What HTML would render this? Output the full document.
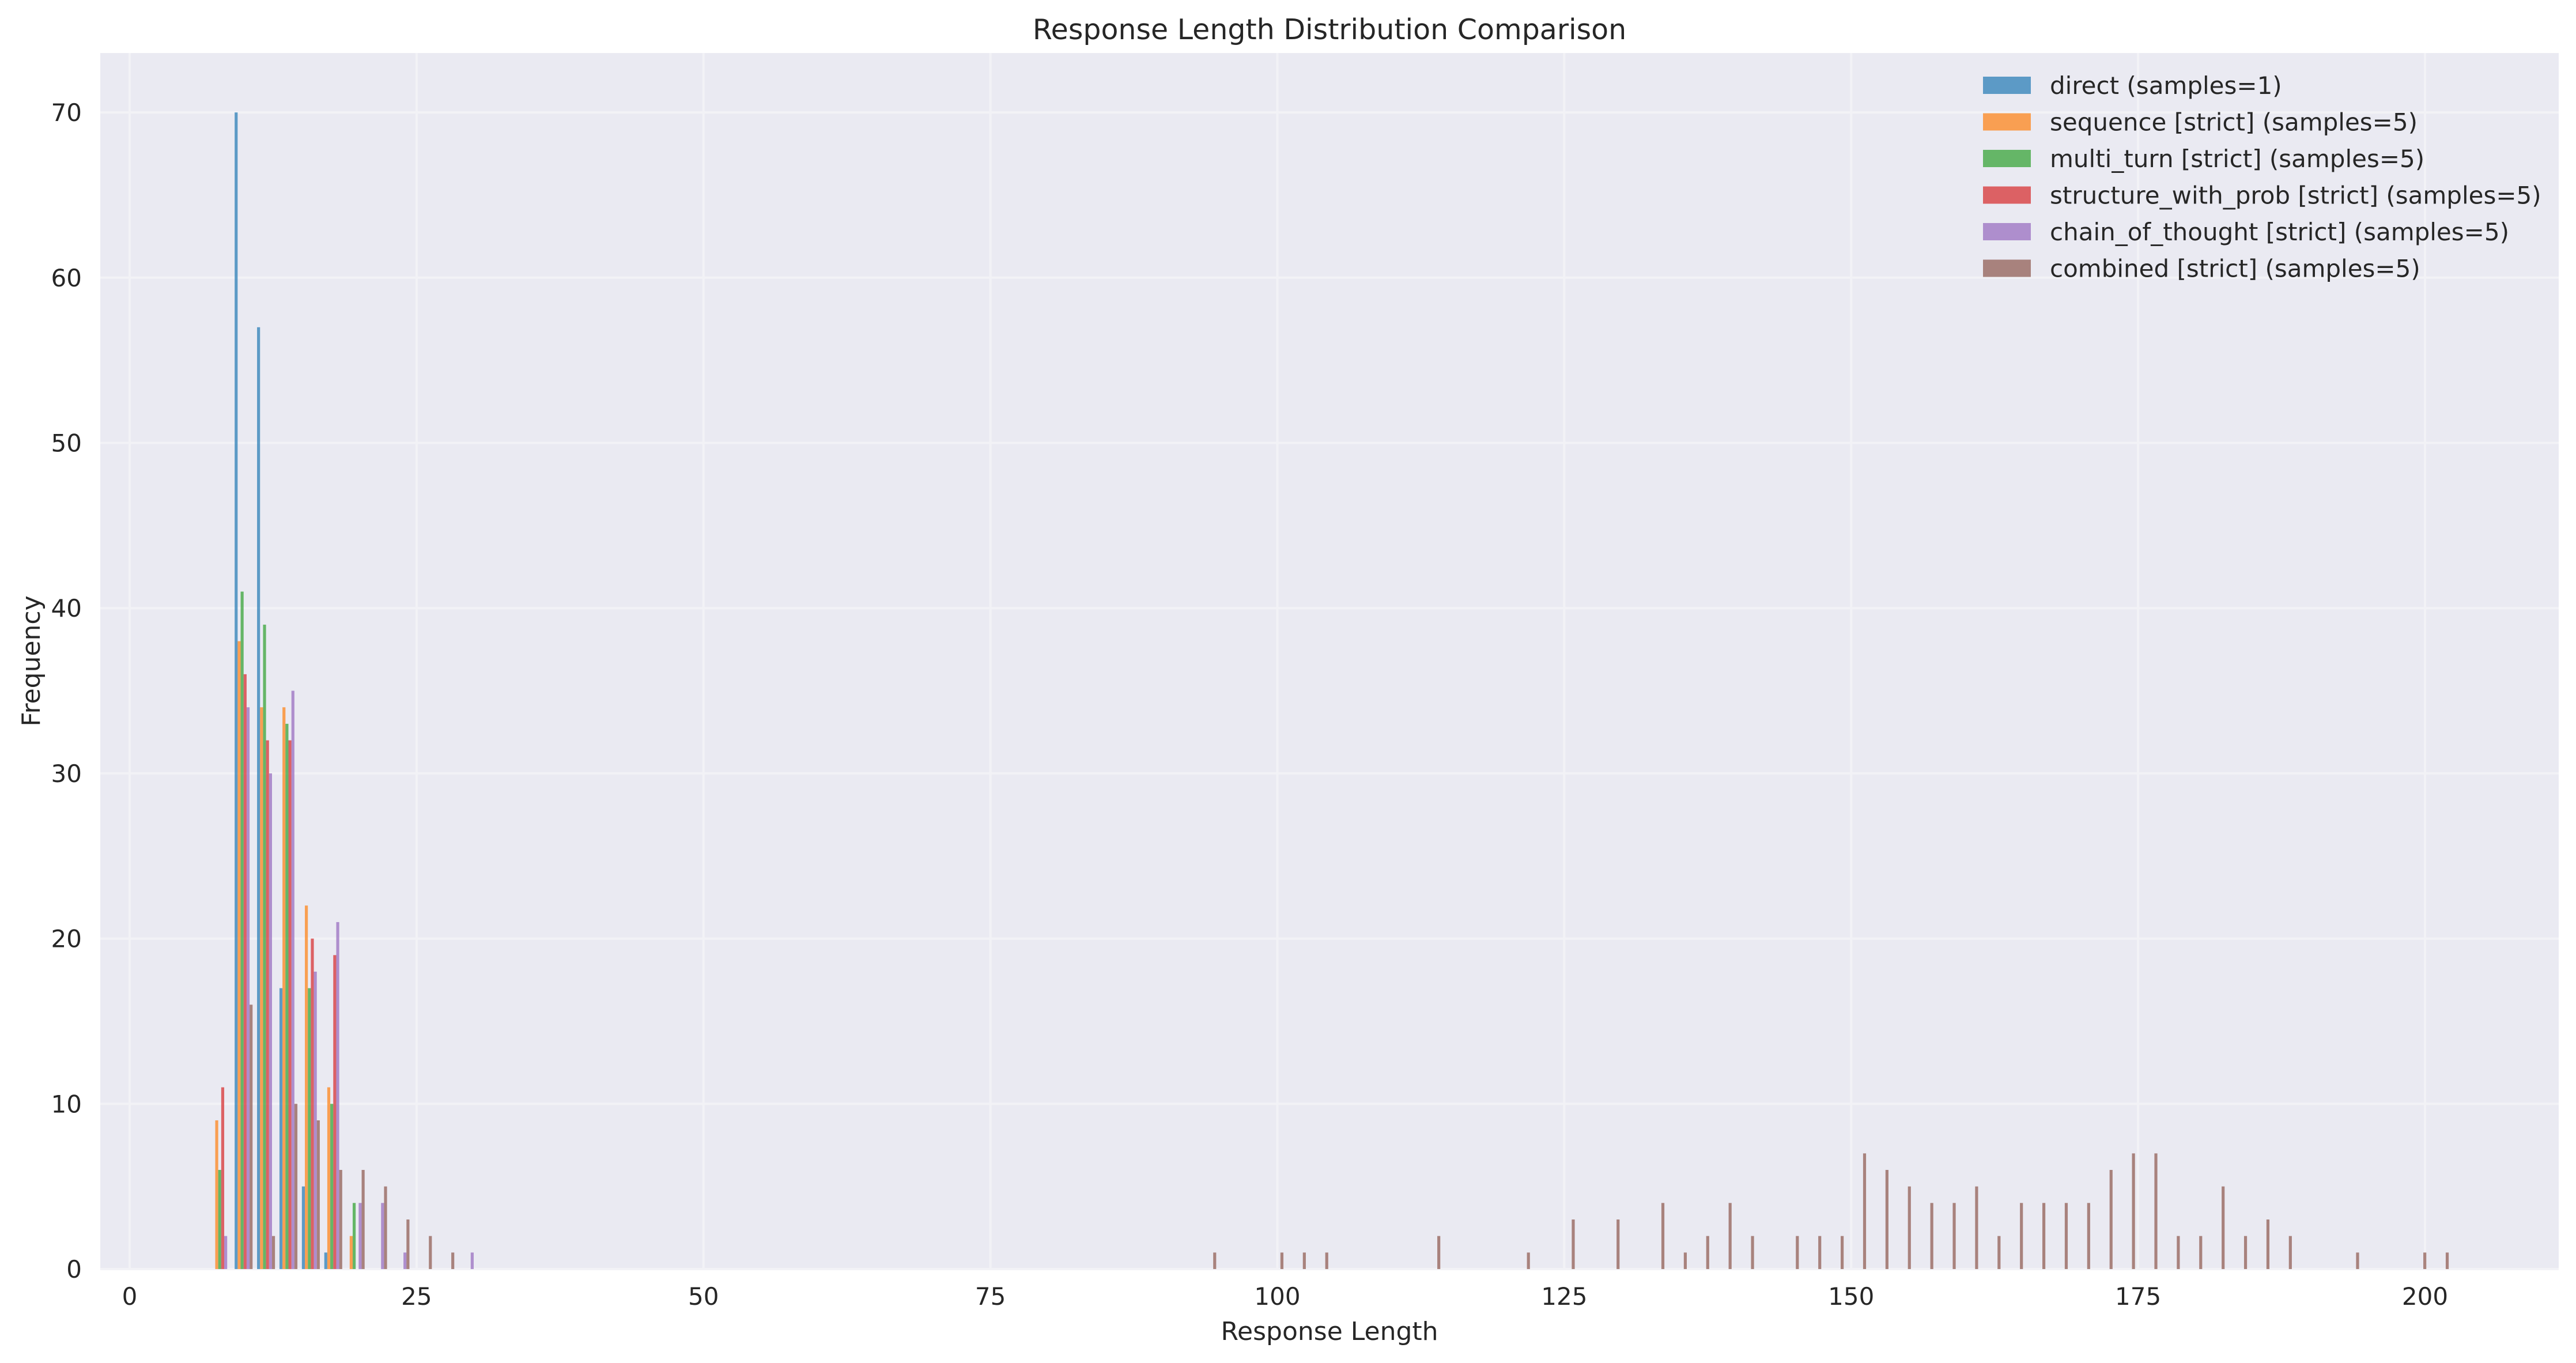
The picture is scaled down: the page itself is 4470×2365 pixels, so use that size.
<!DOCTYPE html>
<html><head><meta charset="utf-8">
<style>
html,body{margin:0;padding:0;background:#fff;}
svg{display:block;font-family:"DejaVu Sans","Liberation Sans",sans-serif;}
</style></head>
<body>
<svg id="chart" width="4470" height="2365" viewBox="0 0 4470 2365" xmlns="http://www.w3.org/2000/svg">
<rect x="174" y="92" width="4266" height="2110" fill="#EAEAF2"/>
<g id="grid"></g>
<g id="bars"></g>
<g id="ticks" fill="#262626" font-size="42"></g>
<text x="2307" y="68" text-anchor="middle" font-size="49" fill="#262626">Response Length Distribution Comparison</text>
<text x="2307" y="2325" text-anchor="middle" font-size="44" fill="#262626">Response Length</text>
<text transform="translate(69,1147) rotate(-90)" text-anchor="middle" font-size="44" fill="#262626">Frequency</text>
<g id="legend" font-size="42" fill="#262626"></g>
</svg>
<script>
const seriesNames = ["direct (samples=1)","sequence [strict] (samples=5)","multi_turn [strict] (samples=5)","structure_with_prob [strict] (samples=5)","chain_of_thought [strict] (samples=5)","combined [strict] (samples=5)"];
const seriesKeys = ["direct","sequence","multi-turn","structure-with-prob","chain-of-thought","combined"];
const colors = ["#1f77b4","#ff7f0e","#2ca02c","#d62728","#9467bd","#8c564b"];
const binMin = 7;
const binWidth = 1.9526;
const directCounts = [0,70,57,17,5,1,0,0,0,0,0,0,0];
const sequenceCounts = [9,38,34,34,22,11,2,0,0,0,0,0,0];
const multiTurnCounts = [6,41,39,33,17,10,4,0,0,0,0,0,0];
const structureCounts = [11,36,32,32,20,19,0,0,0,0,0,0,0];
const chainCounts = [2,34,30,35,18,21,4,4,1,0,0,1,0];
const combinedCounts = [0,16,2,10,9,6,6,5,3,2,1,0,0,0,0,0,0,0,0,0,
0,0,0,0,0,0,0,0,0,0,0,0,0,0,0,0,0,0,0,0,
0,0,0,0,1,0,0,1,1,1,0,0,0,0,2,0,0,0,1,0,
3,0,3,0,4,1,2,4,2,0,2,2,2,7,6,5,4,4,5,2,
4,4,4,4,6,7,7,2,2,5,2,3,2,0,0,1,0,0,1,1];
const xTicks = [0,25,50,75,100,125,150,175,200];
const yTicks = [0,10,20,30,40,50,60,70];

const NS = "http://www.w3.org/2000/svg";
const X0 = 225, XS = 19.915, Y0 = 2202, YS = 28.67;
const PL = 174, PR = 4440, PT = 92, PB = 2202;
function xp(v){ return X0 + v*XS; }
function yp(v){ return Y0 - v*YS; }
function mk(tag, attrs, parent){ const e = document.createElementNS(NS, tag); for (const k in attrs) e.setAttribute(k, attrs[k]); parent.appendChild(e); return e; }

const grid = document.getElementById('grid');
const ticks = document.getElementById('ticks');
xTicks.forEach(t => {
  const l = mk('line', {x1:xp(t), x2:xp(t), y1:PT, y2:PB, stroke:'#F2F2F6', 'stroke-width':4}, grid);
  
  
  const tx = mk('text', {x:xp(t), y:2264, 'text-anchor':'middle'}, ticks);
  tx.textContent = t;
  
  
});
yTicks.forEach(t => {
  const l = mk('line', {x1:PL, x2:PR, y1:yp(t), y2:yp(t), stroke:'#F2F2F6', 'stroke-width':4}, grid);
  
  
  const tx = mk('text', {x:142, y:yp(t)+15, 'text-anchor':'end'}, ticks);
  tx.textContent = t;
  
  
});

const allCounts = [directCounts, sequenceCounts, multiTurnCounts, structureCounts, chainCounts, combinedCounts];
const bars = document.getElementById('bars');
const barW = 0.8*binWidth/6;
allCounts.forEach((arr, si) => {
  arr.forEach((c, k) => {
    if (!c) return;
    const left = binMin + k*binWidth + 0.1*binWidth + si*barW;
    const r = mk('rect', {x:xp(left), y:yp(c), width:barW*XS, height:yp(0)-yp(c), fill:colors[si], 'fill-opacity':0.7}, bars);
    
    
  });
});

const legend = document.getElementById('legend');
seriesNames.forEach((n, i) => {
  const cy = 148 + i*63.5;
  const p = mk('rect', {x:3441, y:cy-15, width:83, height:30, fill:colors[i], 'fill-opacity':0.7}, legend);
  
  
  const t = mk('text', {x:3557, y:cy+15}, legend);
  t.textContent = n;
  
  
});
</script>
</body></html>
